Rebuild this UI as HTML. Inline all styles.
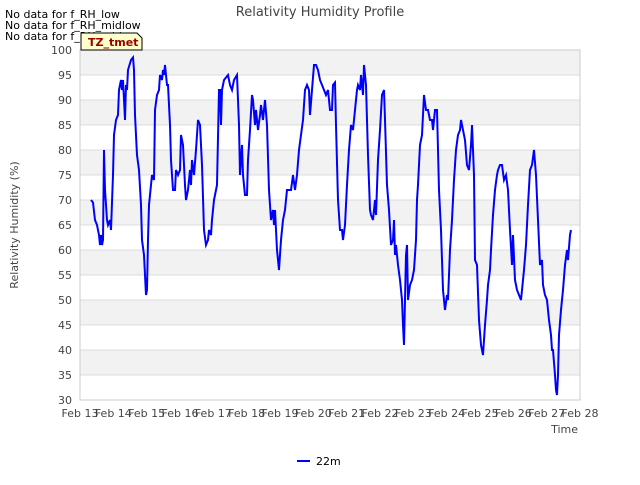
<!DOCTYPE html>
<html><head><meta charset="utf-8"><style>
body{margin:0;background:#fff;font-family:"Liberation Sans","DejaVu Sans",sans-serif}
svg text{font-family:"DejaVu Sans","Liberation Sans",sans-serif}
</style></head><body>
<svg id="chart" width="640" height="480" viewBox="0 0 640 480" xmlns="http://www.w3.org/2000/svg">
<rect x="0" y="0" width="640" height="480" fill="#fff"/>
<g id="bands"></g><g id="grid"></g>
<rect x="80" y="50" width="500" height="350" fill="none" stroke="#ccc"/>
<g id="yticks"></g><g id="xticks"></g>
<path id="line" fill="none" stroke="#0000ff" stroke-width="2"/>
<text x="320" y="16" text-anchor="middle" font-size="13" fill="#444">Relativity Humidity Profile</text>
<text transform="translate(18,225) rotate(-90)" text-anchor="middle" font-size="11" fill="#444">Relativity Humidity (%)</text>
<text x="578" y="433" text-anchor="end" font-size="11" fill="#444">Time</text>
<text x="5" y="18" font-size="11" fill="#000">No data for f_RH_low</text>
<text x="5" y="29" font-size="11" fill="#000">No data for f_RH_midlow</text>
<text x="5" y="40" font-size="11" fill="#000">No data for f_RH_midtop</text>
<g>
<path d="M81,33 L137,33 L142,38 L142,50 L81,50 Z" fill="#ffffcc" stroke="#000"/>
<text x="88" y="46" font-size="11" font-weight="bold" fill="#990000">TZ_tmet</text>
</g>
<g>
<line x1="297" y1="461" x2="310" y2="461" stroke="#0000ff" stroke-width="2"/>
<text x="316" y="465" font-size="11" fill="#000">22m</text>
</g>
</svg>
<script>
const xTickLabels=["Feb 13","Feb 14","Feb 15","Feb 16","Feb 17","Feb 18","Feb 19","Feb 20","Feb 21","Feb 22","Feb 23","Feb 24","Feb 25","Feb 26","Feb 27","Feb 28"];
const yTicks=[30,35,40,45,50,55,60,65,70,75,80,85,90,95,100];
const days=[0.33,0.39,0.45,0.51,0.57,0.6,0.63,0.66,0.69,0.72,0.75,0.81,0.84,0.9,0.93,0.99,1.02,1.08,1.14,1.17,1.23,1.26,1.29,1.35,1.38,1.41,1.44,1.53,1.59,1.62,1.65,1.71,1.77,1.83,1.86,1.92,1.98,2.01,2.04,2.07,2.13,2.16,2.22,2.25,2.31,2.37,2.4,2.46,2.49,2.52,2.55,2.61,2.64,2.7,2.73,2.79,2.85,2.88,2.94,3.0,3.03,3.09,3.15,3.18,3.24,3.3,3.33,3.36,3.42,3.48,3.54,3.6,3.66,3.72,3.78,3.84,3.87,3.93,3.96,4.02,4.11,4.17,4.2,4.23,4.26,4.32,4.38,4.44,4.5,4.56,4.62,4.71,4.77,4.8,4.86,4.89,4.95,5.01,5.04,5.1,5.16,5.19,5.25,5.28,5.34,5.4,5.43,5.49,5.55,5.61,5.67,5.73,5.79,5.82,5.85,5.91,5.97,6.03,6.09,6.15,6.21,6.27,6.33,6.39,6.45,6.51,6.57,6.63,6.69,6.75,6.81,6.87,6.9,6.96,7.02,7.08,7.14,7.2,7.26,7.32,7.38,7.44,7.5,7.56,7.59,7.65,7.68,7.74,7.8,7.86,7.89,7.95,8.01,8.07,8.13,8.19,8.25,8.31,8.34,8.4,8.43,8.49,8.52,8.58,8.64,8.7,8.73,8.79,8.85,8.88,8.94,9.0,9.06,9.12,9.15,9.21,9.27,9.33,9.39,9.42,9.45,9.48,9.54,9.6,9.66,9.69,9.72,9.75,9.78,9.81,9.84,9.9,9.96,10.02,10.08,10.11,10.14,10.2,10.26,10.32,10.38,10.44,10.5,10.56,10.59,10.65,10.71,10.77,10.83,10.89,10.95,11.01,11.04,11.1,11.16,11.22,11.28,11.34,11.4,11.43,11.49,11.55,11.61,11.67,11.73,11.76,11.82,11.85,11.91,11.97,12.03,12.09,12.15,12.21,12.24,12.3,12.33,12.39,12.45,12.51,12.54,12.6,12.66,12.72,12.78,12.84,12.9,12.96,12.99,13.05,13.11,13.17,13.23,13.29,13.32,13.38,13.44,13.5,13.56,13.62,13.68,13.74,13.8,13.86,13.89,13.95,14.01,14.07,14.13,14.16,14.19,14.25,14.28,14.31,14.34,14.37,14.43,14.49,14.55,14.61,14.64,14.7,14.73];
const rh22m=[70,69.5,66,65,63,61,63,61,62,80,72,66,65,66,64,75,83,86,87,92,94,92,94,86,93,92,96,98,98.5,96,87,79,76,69,62,59,51,52,62,69,73,75,74,88,91,92,95,94,96,95,97,93,93,85,78,72,72,76,75,76,83,81,73,70,72,76,73,78,75,80,86,85,77,64,61,62,64,63,66,70,73,92,92,85,92,94,94.5,95,93,92,94,95,85,75,81,75,71,71,78,84,91,90,85,88,84,87,89,86,90,85,72,66,68,65,68,60,56,62,66,68,72,72,72,75,72,75,80,83,86,92,93,92,87,92,97,97,96,94,93,92,91,92,88,88,93,93.5,85,70,64,64,62,65,73,80,85,84,88,92,93,92,95,91,97,93,79,68,67,66,70,67,78,84,91,92,86,73,68,61,62,66,59,61,57,54,50,45,41,50,59,61,50,53,54,56,62,70,73,81,83,91,88,88,86,86,84,88,88,72,64,52,48,51,50,60,66,74,80,83,84,86,84,82,77,76,81,85,75,58,57,46,41,39,45,50,53,56,60,67,72,75,76,77,77,74,75,72,64,57,63,54,52,51,50,54,56,61,69,76,77,80,75,66,57,58,53,51,50,46,43,40,40,35,32,31,35,43,48,52,57,60,58,63,64];
const NS="http://www.w3.org/2000/svg";
const X0=80,X1=580,Y0=400,Y1=50,YMIN=30,YMAX=100;
const xScale=d=>X0+d*(X1-X0)/(xTickLabels.length-1);
const yScale=v=>Y0-(v-YMIN)*(Y0-Y1)/(YMAX-YMIN);
function mk(tag,attrs,parent){const e=document.createElementNS(NS,tag);for(const k in attrs)e.setAttribute(k,attrs[k]);document.getElementById(parent).appendChild(e);return e;}
for(let i=0;i<yTicks.length-1;i++){
  if(i%2===1){const r=mk('rect',{x:X0,y:yScale(yTicks[i+1]),width:X1-X0,height:yScale(yTicks[i])-yScale(yTicks[i+1]),fill:'#f2f2f2'},'bands');
  
  }
}
yTicks.forEach(v=>{
  const l=mk('line',{x1:X0,x2:X1,y1:yScale(v),y2:yScale(v),stroke:'#dcdcdc'},'grid');
  
  
  const t=mk('text',{x:72,y:yScale(v)+4,'text-anchor':'end','font-size':11,fill:'#444'},'yticks');
  t.textContent=v;
  
  
});
xTickLabels.forEach((s,i)=>{
  const t=mk('text',{x:xScale(i),y:417,'text-anchor':'middle','font-size':11,fill:'#444'},'xticks');
  t.textContent=s;
  
  
});
document.getElementById('line').setAttribute('d',days.map((d,i)=>(i?'L':'M')+xScale(d).toFixed(1)+','+yScale(rh22m[i]).toFixed(1)).join(''));
</script>
</body></html>
